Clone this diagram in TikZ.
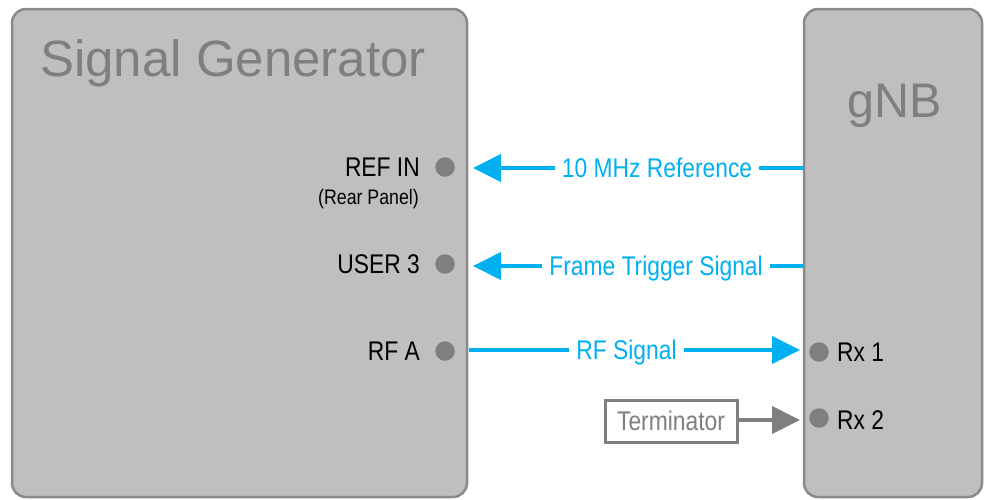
\documentclass[tikz,border=0pt]{standalone}
\usepackage{fontspec}
\setmainfont{Liberation Sans}
\newfontfamily\lblfont[FakeStretch=0.845]{Liberation Sans}
\usetikzlibrary{arrows.meta}
\definecolor{boxfill}{HTML}{BFBFBF}
\definecolor{boxline}{HTML}{8A8A8A}
\definecolor{dotgray}{HTML}{7F7F7F}
\definecolor{titlegray}{HTML}{7F7F7F}
\definecolor{sigblue}{HTML}{00B0F0}
\tikzset{
  devbox/.style={fill=boxfill, draw=boxline, line width=2.5pt, rounded corners=14pt},
  port/.style={circle, fill=dotgray, minimum size=19.5pt, inner sep=0pt},
  portlabel/.style={inner sep=0pt, text=black, font=\lblfont\fontsize{27}{31}\selectfont},
  smalllabel/.style={inner sep=0pt, text=black, font=\lblfont\fontsize{21}{25}\selectfont},
  titletext/.style={inner sep=0pt, text=titlegray},
  bluearrow/.style={draw=sigblue, line width=4pt, -{Triangle[length=28pt,width=27pt]}},
  grayarrow/.style={draw=dotgray, line width=4pt, -{Triangle[length=28pt,width=27pt]}},
  siglabel/.style={fill=white, text=sigblue, inner xsep=7pt, inner ysep=0pt, text height=19.5pt, text depth=1pt, font=\lblfont\fontsize{27}{31}\selectfont},
  termbox/.style={draw=dotgray, line width=3pt, fill=white, text=dotgray, minimum width=132pt, minimum height=42pt, inner sep=0pt, font=\lblfont\fontsize{27}{31}\selectfont}
}
\begin{document}
\begin{tikzpicture}[x=1pt,y=-1pt]
\useasboundingbox (0,0) rectangle (985,499);
% boxes
\node[devbox, minimum width=455pt, minimum height=488pt, inner sep=0pt] (sg) at (239.5,253) {};
\node[devbox, minimum width=178pt, minimum height=488pt, inner sep=0pt] (gnb) at (893,253) {};
% titles
\node[titletext, anchor=base west, font=\fontsize{51}{57}\selectfont] (sgtitle) at (40,76) {Signal Generator};
\node[titletext, anchor=base, font=\fontsize{48.5}{54}\selectfont] (gnbtitle) at (895,117) {gNB};
% signal generator ports
\node[port] (refin) at (445,167) {};
\node[port] (user3) at (445,264) {};
\node[port] (rfa) at (445,351) {};
\node[portlabel, anchor=base east] (reflbl) at (420,176) {REF IN};
\node[smalllabel, anchor=base east] (rearlbl) at (419,204) {(Rear Panel)};
\node[portlabel, anchor=base east] (userlbl) at (420,273) {USER 3};
\node[portlabel, anchor=base east] (rfalbl) at (420,360) {RF A};
% gNB ports
\node[port] (rx1) at (819,352) {};
\node[port] (rx2) at (819,418) {};
\node[portlabel, anchor=base west] (rx1lbl) at (837,361) {Rx 1};
\node[portlabel, anchor=base west] (rx2lbl) at (837,429) {Rx 2};
% terminator
\node[termbox] (term) at (671,421) {Terminator};
% connector end points
\coordinate (refstart) at (804,168);
\coordinate (refend) at (473,168);
\coordinate (trigstart) at (804,266);
\coordinate (trigend) at (473,266);
\coordinate (rfstart) at (469,350);
\coordinate (rfend) at (800,350);
\coordinate (termend) at (800,420);
% connectors
\draw[bluearrow] (refstart) -- node[siglabel, pos=0.444] (reflabel) {10 MHz Reference} (refend);
\draw[bluearrow] (trigstart) -- node[siglabel, pos=0.447] (triglabel) {Frame Trigger Signal} (trigend);
\draw[bluearrow] (rfstart) -- node[siglabel, pos=0.476] (rflabel) {RF Signal} (rfend);
\draw[grayarrow] (term.east |- termend) -- (termend);
\end{tikzpicture}
\end{document}
